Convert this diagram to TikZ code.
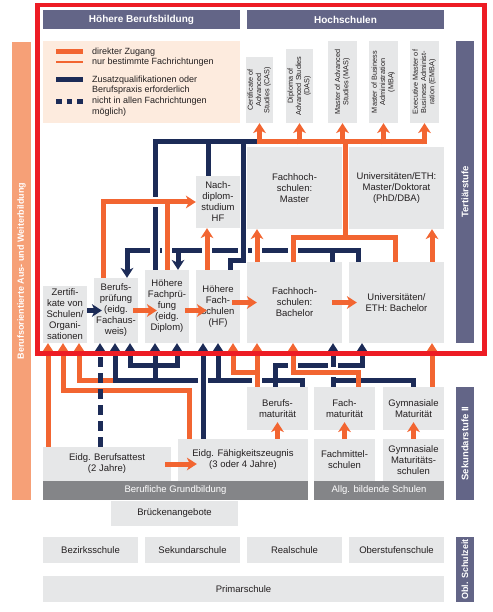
\documentclass[tikz,border=0pt]{standalone}
\usepackage{fontspec}
\setmainfont{Liberation Sans}
\usepackage{tikz}
\usetikzlibrary{arrows.meta,positioning,calc}
\usepackage{xcolor}
\definecolor{chnavy}{RGB}{28,43,87}
\definecolor{chorange}{RGB}{242,101,49}
\definecolor{chslate}{RGB}{99,101,135}
\definecolor{chsalmon}{RGB}{246,160,119}
\definecolor{chpeach}{RGB}{253,235,222}
\definecolor{chbox}{RGB}{230,231,232}
\definecolor{chbar}{RGB}{132,133,136}
\definecolor{chred}{RGB}{237,28,36}
\definecolor{chtext}{RGB}{35,31,32}
\newcommand{\certtext}[1]{\rotatebox{90}{\begin{tabular}{@{}c@{}}#1\end{tabular}}}

\begin{document}
\begin{tikzpicture}[x=1pt, y=-1pt,
  box/.style={fill=chbox, inner sep=0pt, align=center, text=chtext,
    font=\fontsize{9.5}{11}\selectfont},
  cert/.style={box, font=\fontsize{7.3}{8.3}\selectfont},
  head/.style={fill=chslate, inner sep=0pt, text=white,
    font=\fontsize{10}{12}\selectfont\bfseries},
  sidebar/.style={fill=chslate, inner sep=0pt, text=white,
    font=\fontsize{9.5}{11}\selectfont\bfseries},
  basebar/.style={fill=chbar, inner sep=0pt, text=white,
    font=\fontsize{9.5}{11}\selectfont},
  legtext/.style={anchor=west, inner sep=0pt, text=chtext,
    font=\fontsize{9}{11}\selectfont},
  oline/.style={draw=chorange, line width=5pt},
  nline/.style={draw=chnavy, line width=5pt},
  oarr/.style={oline, -{Stealth[length=10pt, width=13pt, inset=3pt, line width=0pt]}},
  narr/.style={nline, -{Stealth[length=10pt, width=13pt, inset=3pt, line width=0pt]}},
  nboth/.style={nline, {Stealth[length=10pt, width=13pt, inset=3pt, line width=0pt]}-{Stealth[length=10pt, width=13pt, inset=3pt, line width=0pt]}}]
\useasboundingbox (0,0) rectangle (492,612);

\node[head, minimum width=197pt, minimum height=19pt] (hbb) at (141.5,19.5) {Höhere Berufsbildung};
\node[head, minimum width=197pt, minimum height=19pt] (hs) at (345.5,19.5) {Hochschulen};
\node[fill=chpeach, minimum width=197pt, minimum height=82pt] (leg) at (141.5,82) {};
\node[legtext] (leg1) at (92,52) {direkter Zugang};
\node[legtext] (leg2) at (92,62) {nur bestimmte Fachrichtungen};
\node[legtext] (leg3) at (92,80) {Zusatzqualifikationen oder};
\node[legtext] (leg4) at (92,90.5) {Berufspraxis erforderlich};
\node[legtext] (leg5) at (92,101.5) {nicht in allen Fachrichtungen};
\node[legtext] (leg6) at (92,112) {möglich)};
\draw[draw=chorange, line width=5pt] ([xshift=-36pt]leg1.west) -- ([xshift=-9pt]leg1.west);
\draw[draw=chorange, line width=2.8pt] ([xshift=-36pt]leg2.west) -- ([xshift=-9pt]leg2.west);
\draw[draw=chnavy, line width=5pt] ([xshift=-36pt]leg3.west) -- ([xshift=-9pt]leg3.west);
\draw[draw=chnavy, line width=5pt, dash pattern=on 5.5pt off 5pt] ([xshift=-36pt]leg5.west) -- ([xshift=-9pt]leg5.west);

\node[cert, minimum width=27pt, minimum height=66pt] (cas) at (259.5,90) {\certtext{Certificate of\\Advanced\\Studies (CAS)}};
\node[cert, minimum width=27pt, minimum height=74pt] (das) at (299.5,86) {\certtext{Diploma of\\Advanced Studies\\(DAS)}};
\node[cert, minimum width=29pt, minimum height=82pt] (mas) at (342.5,82) {\certtext{Master of Advanced\\Studies (MAS)}};
\node[cert, minimum width=29pt, minimum height=82pt] (mba) at (383.5,82) {\certtext{Master of Business\\Administration\\(MBA)}};
\node[cert, minimum width=29pt, minimum height=82pt] (emba) at (424.5,82) {\certtext{Executive Master of\\Business Administ-\\ration (EMBA)}};

\node[box, minimum width=95pt, minimum height=82pt] (fhm) at (294.5,188) {Fachhoch-\\schulen:\\Master};
\node[box, minimum width=95pt, minimum height=82pt] (unim) at (396.5,188) {Universitäten/ETH:\\Master/Doktorat\\(PhD/DBA)};
\node[box, minimum width=95pt, minimum height=81pt] (fhb) at (294.5,302.5) {Fachhoch-\\schulen:\\Bachelor};
\node[box, minimum width=95pt, minimum height=81pt] (unib) at (396.5,302.5) {Universitäten/\\ETH: Bachelor};
\node[box, minimum width=44pt, minimum height=52pt] (nds) at (218,202) {Nach-\\diplom-\\studium\\HF};
\node[box, minimum width=44pt, minimum height=57pt] (zert) at (65,314.5) {Zertifi-\\kate von\\Schulen/\\Organi-\\sationen};
\node[box, minimum width=44pt, minimum height=65pt] (bp) at (116,310.5) {Berufs-\\prüfung\\(eidg.\\Fachaus-\\weis)};
\node[box, minimum width=44pt, minimum height=73pt] (hfp) at (167,306.5) {Höhere\\Fachprü-\\fung\\(eidg.\\Diplom)};
\node[box, minimum width=44pt, minimum height=73pt] (hf) at (218,306.5) {Höhere\\Fach-\\schulen\\(HF)};

\node[box, minimum width=61pt, minimum height=43pt] (bms) at (277.5,408.5) {Berufs-\\maturität};
\node[box, minimum width=61pt, minimum height=43pt] (fms) at (344.5,408.5) {Fach-\\maturität};
\node[box, minimum width=61pt, minimum height=43pt] (gym) at (413.5,408.5) {Gymnasiale\\Maturität};
\node[box, minimum width=61pt, minimum height=42pt] (fmschule) at (344.5,460) {Fachmittel-\\schulen};
\node[box, minimum width=61pt, minimum height=42pt] (gymschule) at (413.5,460) {Gymnasiale\\Maturitäts-\\schulen};
\node[box, minimum width=128pt, minimum height=34pt] (bat) at (107,464) {Eidg. Berufsattest\\(2 Jahre)};
\node[box, minimum width=130pt, minimum height=42pt] (efz) at (243,460) {Eidg. Fähigkeitszeugnis\\(3 oder 4 Jahre)};
\node[basebar, minimum width=265pt, minimum height=19pt] (bgb) at (175.5,490.5) {Berufliche Grundbildung};
\node[basebar, minimum width=130pt, minimum height=19pt] (abs) at (379,490.5) {Allg. bildende Schulen};

\node[box, minimum width=127pt, minimum height=25pt] (brueck) at (174.5,513.5) {Brückenangebote};
\node[box, minimum width=95pt, minimum height=26pt] (bez) at (90.5,550) {Bezirksschule};
\node[box, minimum width=95pt, minimum height=26pt] (sek) at (192.5,550) {Sekundarschule};
\node[box, minimum width=95pt, minimum height=26pt] (real) at (294.5,550) {Realschule};
\node[box, minimum width=95pt, minimum height=26pt] (ober) at (396.5,550) {Oberstufenschule};
\node[box, minimum width=401pt, minimum height=26pt] (prim) at (243.5,589) {Primarschule};

\node[sidebar, fill=chsalmon, minimum width=19pt, minimum height=458pt,
  font=\fontsize{9}{10}\selectfont\bfseries] (bow) at (21.5,271)
  {\rotatebox{90}{Berufsorientierte Aus- und Weiterbildung}};
\node[sidebar, minimum width=18pt, minimum height=302pt] (tert) at (465,192) {\rotatebox{90}{Tertiärstufe}};
\node[sidebar, minimum width=18pt, minimum height=113pt] (sek2) at (465,443.5) {\rotatebox{90}{Sekundarstufe II}};
\node[sidebar, minimum width=18pt, minimum height=65pt,
  font=\fontsize{9}{11}\selectfont\bfseries] (obl) at (465,569.5) {\rotatebox{90}{Obl. Schulzeit}};

\draw[narr] (unib.north -| 358,0) |- (127,250) -- (bp.north -| 127,0);
\draw[nline] (fhb.north -| 332,0) -- (332,250);
\draw[narr] (178,250) -- (hfp.north -| 178,0);
\draw[nline] (nds.north -| 208,0) -- (208,142);
\draw[nline] (bms.north -| 302,0) |- (113,380);
\draw[narr] (115,380) -- (bp.south -| 115,0);
\draw[narr] (155,380) -- (hfp.south -| 155,0);
\draw[narr] (218,380) -- (hf.south -| 218,0);
\draw[nboth] (bp.south -| 130,0) |- (177,365) -- (hfp.south -| 177,0);
\draw[narr] (bms.north -| 275,0) |- (362,365) -- (unib.south -| 362,0);
\draw[narr] (zert.east |- bp.west) -- ($(bp.west)+(8,0)$);

\foreach \x/\y in {155/250, 243/250, 203/380, 333/365}
  \fill[white] (\x-5,\y-4) rectangle (\x+5,\y+4);
\draw[nline] (hfp.north -| 155,0) |- (257,142);
\draw[nline] (hf.north -| 230,0) |- (243,260) -- (243,142);
\draw[narr] (efz.north -| 203,0) -- (hf.south -| 203,0);
\draw[nline] (gym.north -| 413,0) |- (333,380);
\draw[narr] (fms.north -| 333,0) -- (fhb.south -| 333,0);

\foreach \x/\y in {257/250, 293/250, 167/250, 207/250, 293/365, 257/380}
  \fill[white] (\x-5,\y-4) rectangle (\x+5,\y+4);
\foreach \x/\y in {155/202, 333/372}
  \fill[white] (\x-4,\y-5) rectangle (\x+4,\y+5);

\draw[oline] (257,142) -- (emba.south |- 0,142);
\foreach \n in {cas, das, mas, mba, emba}
  \draw[oarr] (\n.south |- 0,144.5) -- (\n.south);
\draw[oline] (fhb.north -| 293,0) -- (293,237) -- (395,237) -- (unib.north -| 395,0);
\draw[oline] (345,237) -- (345,142);
\draw[oarr] (fhb.north -| 257,0) -- (fhm.south -| 257,0);
\draw[oarr] (unib.north -| 432,0) -- (unim.south -| 432,0);
\draw[oarr] (fhb.east) ++(-10,0) -- ($(unib.west)+(8,0)$);
\draw[oarr] (hf.east |- fhb.west) ++(-8,0) -- ($(fhb.west)+(10,0)$);
\draw[oarr] (bp.east) ++(-5,0) -- ($(hfp.west |- bp.east)+(12,0)$);
\draw[oarr] ($(hfp.east |- bp.east)+(-4,0)$) -- ($(hf.west |- bp.east)+(11,0)$);
\draw[oarr] (bp.north -| 103,0) |- (nds.west);
\draw[oline] (hfp.north -| 167,0) -- (167,202);
\draw[oarr] (hf.north -| 207,0) -- (nds.south -| 207,0);

\draw[oarr] (bms.north -| 257,0) -- (fhb.south -| 257,0);
\draw[oarr] (257,372) -| (hf.south -| 233,0);
\draw[oarr] (fms.north -| 358,0) |- (293,372) -- (fhb.south -| 293,0);
\draw[oarr] (gym.north -| 432,0) -- (unib.south -| 432,0);
\draw[oarr] (bat.north -| 48,0) -- (zert.south -| 48,0);
\draw[oarr] (efz.north -| 189,0) |- (63,390) -- (zert.south -| 63,0);
\draw[oarr] (113,380) -| (zert.south -| 79,0);
\draw[oarr] (efz.north -| bms.south) -- ($(bms.south)+(0,-8)$);
\draw[oarr] (fmschule.north) -- ($(fms.south)+(0,-8)$);
\draw[oarr] (gymschule.north) -- ($(gym.south)+(0,-8)$);
\draw[oarr] (bat.east) ++(-6,0) -- ($(efz.west |- bat.east)+(19,0)$);

\draw[narr, dash pattern=on 10pt off 6pt] (bat.north -| 100,0) -- (bp.south -| 100,0);

\draw[chred, line width=4.5pt] (37.5,5) rectangle (484.5,353.5);
\end{tikzpicture}
\end{document}
